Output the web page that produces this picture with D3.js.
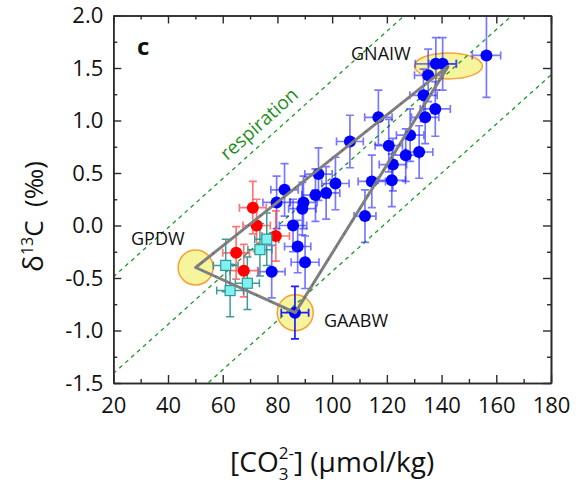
<!DOCTYPE html>
<html><head><meta charset="utf-8">
<script src="https://cdn.jsdelivr.net/npm/d3@7"></script>
<style>
html,body{margin:0;padding:0;background:#fff;}
svg{display:block;font-family:"Open Sans",sans-serif;}
</style></head><body>
<svg id="chart" width="579" height="498"></svg>
<script>
// Atlantic deep-water samples (blue circles)
const blueCO3    = [156.4,137.9,140.4,135.1,133.4,137.7,134.0,116.9,128.5,120.7,131.8,126.9,122.2,114.5,121.8,106.5,95.0,101.2,97.8,82.6,93.9,79.7,89.5,89.1,85.7,87.4,90.1,77.9,86.4,112.0];
const blueD13C   = [1.62,1.54,1.54,1.43,1.24,1.11,1.03,1.03,0.86,0.76,0.70,0.67,0.58,0.42,0.43,0.80,0.49,0.40,0.31,0.34,0.29,0.22,0.22,0.16,0.00,-0.20,-0.35,-0.44,-0.83,0.09];
const blueCO3Err = [5.2,7.5,5.0,5.0,5.0,5.5,5.0,5.0,5.0,5.0,5.0,5.0,5.0,5.0,5.0,4.9,5.0,5.0,5.0,5.0,5.0,5.0,5.0,5.0,5.0,4.8,5.1,4.9,5.0,4.0];
const blueD13CErr= [0.40,0.25,0.25,0.25,0.25,0.26,0.25,0.26,0.25,0.25,0.25,0.25,0.25,0.25,0.25,0.25,0.25,0.25,0.25,0.25,0.25,0.25,0.25,0.25,0.25,0.25,0.25,0.25,0.25,0.25];

// Red circles
const redCO3     = [71.0,72.4,79.4,64.9,67.7];
const redD13C    = [0.17,0.00,-0.10,-0.26,-0.43];
const redCO3Err  = [4.9,5.0,5.0,4.9,5.1];
const redD13CErr = [0.25,0.25,0.24,0.25,0.25];

// Cyan squares
const cyanCO3     = [61.1,62.7,69.0,73.6,76.1];
const cyanD13C    = [-0.38,-0.62,-0.55,-0.23,-0.13];
const cyanCO3Err  = [4.5,4.9,4.4,4.4,4.4];
const cyanD13CErr = [0.25,0.25,0.25,0.25,0.25];

// End-member water masses
const endNames = ["GNAIW","GPDW","GAABW"];
const endCO3   = [142.5,50.1,86.5];
const endD13C  = [1.52,-0.40,-0.83];

// Respiration trend lines: δ13C at [CO3] = 20, common slope
const respIntercepts = [-0.49,-1.41,-2.31];
const respSlope = 0.0234;

// Axis ticks
const xTicks = [20,40,60,80,100,120,140,160,180];
const yTicks = [-1.5,-1.0,-0.5,0.0,0.5,1.0,1.5,2.0];
const xMinor = [30,50,70,90,110,130,150,170];
const yMinor = [-1.25,-0.75,-0.25,0.25,0.75,1.25,1.75];

const svg = d3.select("#chart");
const L = 113.3, R = 551, T = 15.5, B = 383;
const x = d3.scaleLinear().domain([20,180]).range([L,R]);
const y = d3.scaleLinear().domain([-1.5,2.0]).range([B,T]);

svg.append("defs").append("clipPath").attr("id","plotClip")
  .append("rect").attr("x",L).attr("y",T).attr("width",R-L).attr("height",B-T);
const plot = svg.append("g").attr("clip-path","url(#plotClip)");

// End-member fields
const fieldRx = [34,17.5,18], fieldRy = [13,17.5,18];
plot.selectAll("ellipse.field").data(endNames).join("ellipse")
  .attr("class","field")
  .attr("cx",(d,i)=>x(endCO3[i])).attr("cy",(d,i)=>y(endD13C[i]))
  .attr("rx",(d,i)=>fieldRx[i]).attr("ry",(d,i)=>fieldRy[i])
  .attr("fill","#f6f49c").attr("stroke","#f5a23a").attr("stroke-width",1.5);

// Respiration lines
plot.selectAll("line.resp").data(respIntercepts).join("line")
  .attr("class","resp")
  .attr("x1",x(20)).attr("y1",d=>y(d))
  .attr("x2",x(180)).attr("y2",d=>y(d+respSlope*160))
  .attr("stroke","#22962a").attr("stroke-width",1.3)
  .attr("stroke-dasharray","4,4");

// Error bars
function errorBars(xs, ys, xe, ye, color, opacity, width){
  const g = plot.append("g").attr("stroke",color).attr("stroke-width",width)
    .attr("stroke-opacity",opacity).attr("fill","none");
  const cap = 4;
  xs.forEach((v,i)=>{
    const cx = x(v), cy = y(ys[i]);
    const y0 = y(ys[i]-ye[i]), y1 = y(ys[i]+ye[i]);
    const x0 = x(v-xe[i]), x1 = x(v+xe[i]);
    const solid = Math.abs(v-endCO3[2])<1 && Math.abs(ys[i]-endD13C[2])<0.05;
    const gg = g.append("g");
    if (solid) gg.attr("stroke-opacity",1);
    gg.append("path").attr("d",
      `M${cx},${y0}V${y1}M${cx-cap},${y0}H${cx+cap}M${cx-cap},${y1}H${cx+cap}`+
      `M${x0},${cy}H${x1}M${x0},${cy-cap}V${cy+cap}M${x1},${cy-cap}V${cy+cap}`);
  });
}
errorBars(blueCO3, blueD13C, blueCO3Err, blueD13CErr, "#1f1fff", 0.6, 1.7);
errorBars(redCO3, redD13C, redCO3Err, redD13CErr, "#ff4a4a", 0.75, 1.7);
errorBars(cyanCO3, cyanD13C, cyanCO3Err, cyanD13CErr, "#2a8f8f", 0.9, 1.5);

// Markers
plot.append("g").selectAll("circle").data(blueCO3).join("circle")
  .attr("cx",d=>x(d)).attr("cy",(d,i)=>y(blueD13C[i])).attr("r",6)
  .attr("fill","#0000ff");
plot.append("g").selectAll("circle").data(redCO3).join("circle")
  .attr("cx",d=>x(d)).attr("cy",(d,i)=>y(redD13C[i])).attr("r",6)
  .attr("fill","#ff0000");
plot.append("g").selectAll("rect").data(cyanCO3).join("rect")
  .attr("x",d=>x(d)-5).attr("y",(d,i)=>y(cyanD13C[i])-5)
  .attr("width",10).attr("height",10)
  .attr("fill","#7ff2f0").attr("stroke","#2f9898").attr("stroke-width",1.2);

// Mixing triangle between end members
const tri = [0,1,2,0].map(i=>[x(endCO3[i]), y(endD13C[i])]);
plot.append("path").attr("d",d3.line()(tri))
  .attr("fill","none").attr("stroke","#808080").attr("stroke-width",3)
  .attr("stroke-linejoin","round");
plot.append("path").attr("d",d3.line()(tri))
  .attr("fill","none").attr("stroke","#333").attr("stroke-width",1.2)
  .attr("stroke-dasharray","1,14").attr("stroke-opacity",0.6);

// Axes: ticks point inwards on all four sides
const axisColor = "#2a2a2a";
function styleAxis(g){
  g.select(".domain").attr("stroke",axisColor).attr("stroke-width",1.6);
  g.selectAll(".tick line").attr("stroke",axisColor).attr("stroke-width",1.4);
  g.selectAll(".tick text").attr("fill","#111").attr("font-size",22)
    .attr("font-family","'Open Sans',sans-serif");
}
svg.append("g").attr("transform",`translate(0,${B})`)
  .call(d3.axisBottom(x).tickValues(xTicks).tickSize(-8).tickSizeOuter(0).tickPadding(14).tickFormat(d3.format("d")))
  .call(styleAxis);
svg.append("g").attr("transform",`translate(0,${B})`)
  .call(d3.axisBottom(x).tickValues(xMinor).tickSize(-4).tickSizeOuter(0).tickFormat(""))
  .call(styleAxis);
svg.append("g").attr("transform",`translate(${L},0)`)
  .call(d3.axisLeft(y).tickValues(yTicks).tickSize(-8).tickSizeOuter(0).tickPadding(10).tickFormat(d3.format(".1f")))
  .call(styleAxis);
svg.append("g").attr("transform",`translate(${L},0)`)
  .call(d3.axisLeft(y).tickValues(yMinor).tickSize(-4).tickSizeOuter(0).tickFormat(""))
  .call(styleAxis);
svg.append("g").attr("transform",`translate(0,${T})`)
  .call(d3.axisTop(x).tickValues(xTicks).tickSize(-8).tickSizeOuter(0).tickFormat(""))
  .call(styleAxis);
svg.append("g").attr("transform",`translate(0,${T})`)
  .call(d3.axisTop(x).tickValues(xMinor).tickSize(-4).tickSizeOuter(0).tickFormat(""))
  .call(styleAxis);
svg.append("g").attr("transform",`translate(${R},0)`)
  .call(d3.axisRight(y).tickValues(yTicks).tickSize(-8).tickSizeOuter(0).tickFormat(""))
  .call(styleAxis);
svg.append("g").attr("transform",`translate(${R},0)`)
  .call(d3.axisRight(y).tickValues(yMinor).tickSize(-4).tickSizeOuter(0).tickFormat(""))
  .call(styleAxis);
// plain hyphen for negative tick labels
svg.selectAll(".tick text").text(function(){ return this.textContent.replace("\u2212","-"); });

// Panel letter
svg.append("text").attr("x",137).attr("y",55).attr("font-size",24)
  .attr("font-weight","bold").attr("fill","#111").text("c");

// End-member labels
const labelPos = [[351,60],[131,245],[324,327]];
svg.selectAll("text.em").data(endNames).join("text").attr("class","em")
  .attr("x",(d,i)=>labelPos[i][0]).attr("y",(d,i)=>labelPos[i][1])
  .attr("font-size",18).attr("fill","#111").text(d=>d);

// Respiration label along the upper trend line
{
  const xa = 20, xb = 120;
  const ang = Math.atan2(y(respIntercepts[0]+respSlope*(xb-xa))-y(respIntercepts[0]), x(xb)-x(xa))*180/Math.PI;
  const xc = 77.3, yc = respIntercepts[0]+respSlope*(xc-20);
  svg.append("text")
    .attr("transform",`translate(${x(xc)},${y(yc)}) rotate(${ang})`)
    .attr("text-anchor","middle").attr("dy",-10)
    .attr("font-size",19).attr("fill","#1f8f22").text("respiration");
}

// X-axis title with stacked sub/superscript
{
  const g = svg.append("g");
  const base = 472, fs = 28, fsSmall = 17;
  const t1 = g.append("text").attr("x",0).attr("y",base).attr("font-size",fs).attr("fill","#111").text("[CO");
  const w1 = t1.node().getComputedTextLength();
  const sup = g.append("text").attr("x",w1).attr("y",base-13).attr("font-size",fsSmall).attr("fill","#111").text("2-");
  const sub = g.append("text").attr("x",w1).attr("y",base+8).attr("font-size",fsSmall).attr("fill","#111").text("3");
  const w2 = Math.max(sup.node().getComputedTextLength(), sub.node().getComputedTextLength());
  const t2 = g.append("text").attr("x",w1+w2).attr("y",base).attr("font-size",fs).attr("fill","#111").text("] (\u03bcmol/kg)");
  const total = w1+w2+t2.node().getComputedTextLength();
  g.attr("transform",`translate(${(L+R)/2-total/2},0)`);
}

// Y-axis title
svg.append("text")
  .attr("transform","translate(43,216.5) rotate(-90)")
  .attr("text-anchor","middle").attr("font-size",26).attr("fill","#111")
  .call(t=>{
    t.append("tspan").attr("font-size",28).text("\u03b4");
    t.append("tspan").attr("dy",-10).attr("font-size",16).text("13");
    t.append("tspan").attr("dy",10).text("C\u00a0\u00a0(\u2030)");
  });
</script>
</body></html>
